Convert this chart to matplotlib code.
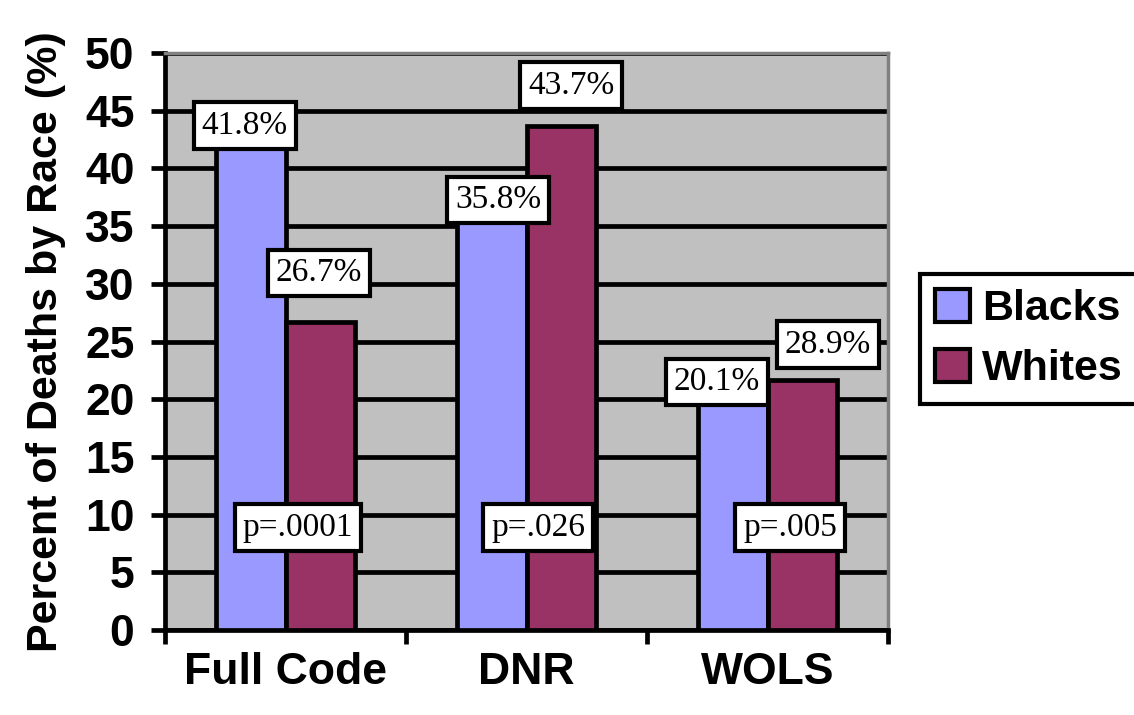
import matplotlib
matplotlib.use('Agg')
import matplotlib.pyplot as plt
import numpy as np

categories = ['Full Code', 'DNR', 'WOLS']
blacks = [41.8, 35.8, 20.1]
whites = [26.7, 43.7, 21.7]
blacks_labels = ['41.8%', '35.8%', '20.1%']
whites_labels = ['26.7%', '43.7%', '28.9%']
p_values = ['p=.0001', 'p=.026', 'p=.005']

BLUE = '#9999FF'
PLUM = '#993366'
GRAY = '#C0C0C0'

# label offsets from bar top centre, in pixels
blacks_offsets = [(-6, 22), (6, 17), (-16, 16)]
whites_offsets = [(-1, 49), (10, 40), (26, 35)]
p_offsets = [0.052, 0.048, 0.093]

if __name__ == '__main__':
    fig = plt.figure(figsize=(11.34, 7.15), dpi=100)
    ax = fig.add_axes([165 / 1134, 85 / 715, (888 - 165) / 1134, (630 - 53) / 715])
    ax.set_facecolor(GRAY)

    x = np.arange(len(categories))
    w = 0.287
    lw = 3.4

    ax.bar(x - w / 2, blacks, w, color=BLUE, edgecolor='black', linewidth=lw, zorder=3, label='Blacks')
    ax.bar(x + w / 2, whites, w, color=PLUM, edgecolor='black', linewidth=lw, zorder=3, label='Whites')

    box = dict(boxstyle='square,pad=0.24', facecolor='white', edgecolor='black', linewidth=3)
    serif = dict(family='Liberation Serif', fontsize=24, ha='center', va='center', zorder=5)

    for i in range(len(categories)):
        ax.annotate(blacks_labels[i], (x[i] - w / 2, blacks[i]), xytext=blacks_offsets[i],
                    textcoords='offset pixels', bbox=box, annotation_clip=False, **serif)
        ax.annotate(whites_labels[i], (x[i] + w / 2, whites[i]), xytext=whites_offsets[i],
                    textcoords='offset pixels', bbox=box, annotation_clip=False, **serif)
        ax.text(x[i] + p_offsets[i], 8.9, p_values[i], bbox=box, **serif)

    ax.set_xlim(-0.5, 2.5)
    ax.set_ylim(0, 50)
    ax.set_yticks(np.arange(0, 51, 5))
    ax.set_xticks([-0.5, 0.5, 1.5, 2.5])
    ax.set_xticklabels([])
    ax.set_xticks(x, minor=True)
    ax.set_xticklabels(categories, minor=True)

    ax.grid(axis='y', color='black', linewidth=lw, zorder=1)
    ax.set_axisbelow(True)

    for side in ['top', 'right']:
        ax.spines[side].set_color('#808080')
        ax.spines[side].set_linewidth(2.5)
    for side in ['left', 'bottom']:
        ax.spines[side].set_color('black')
        ax.spines[side].set_linewidth(lw)

    sans = dict(family='Liberation Sans', weight='bold', size=32)
    ax.tick_params(axis='y', direction='out', length=10, width=lw, pad=12)
    ax.tick_params(axis='x', which='major', direction='out', length=10, width=lw)
    ax.tick_params(axis='x', which='minor', length=0, pad=16)
    for lab in ax.get_yticklabels() + ax.get_xticklabels(minor=True):
        lab.set_fontproperties(matplotlib.font_manager.FontProperties(**sans))

    ax.set_ylabel('Percent of Deaths by Race (%)', fontdict=dict(family='Liberation Sans', weight='bold', size=31), labelpad=14)

    leg = ax.legend(loc='center left', bbox_to_anchor=(920 / 1134, 1 - 339 / 715), bbox_transform=fig.transFigure,
                    prop=dict(family='Liberation Sans', weight='bold', size=31), fancybox=False,
                    edgecolor='black', framealpha=1, handlelength=0.8, handleheight=0.8,
                    handletextpad=0.3, borderpad=0.35, labelspacing=0.45, borderaxespad=0)
    leg.get_frame().set_linewidth(3)
    for h in leg.legend_handles:
        h.set_linewidth(3)

    plt.savefig('out.png', dpi=100)
